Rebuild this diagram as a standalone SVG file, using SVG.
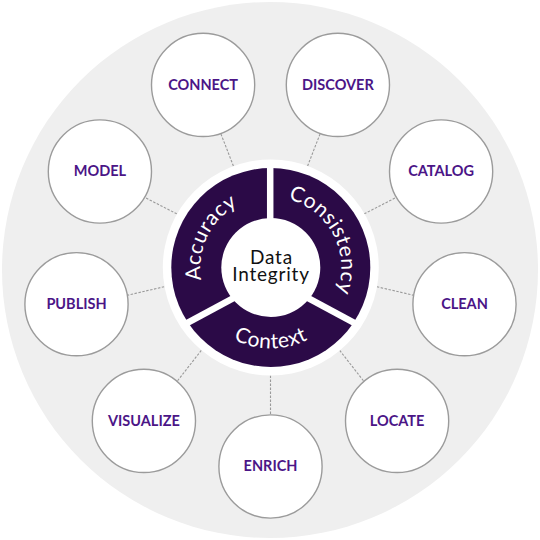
<svg xmlns="http://www.w3.org/2000/svg" width="540" height="540" viewBox="0 0 540 540">
  <defs>
    <style>
      .node circle { fill: #ffffff; stroke: #9b9b9b; stroke-width: 1.4; }
      .node text { font-family: Lato, "Liberation Sans", sans-serif; font-weight: 700; font-size: 14.5px; fill: #4b1587; text-anchor: middle; }
      .conn line { stroke: #9a9a9a; stroke-width: 1.1; stroke-dasharray: 2.5 1.5; }
      .seg { font-family: Lato, "Liberation Sans", sans-serif; font-size: 21px; letter-spacing: 0.6px; fill: #ffffff; }
      .core-t { font-family: Lato, "Liberation Sans", sans-serif; font-size: 19px; letter-spacing: 0.8px; fill: #111111; text-anchor: middle; }
      .gap { stroke: #ffffff; stroke-width: 6.5; }
    </style>
    <path id="pAcc" d="M 212.35 306.92 A 70.5 70.5 0 0 1 265.88 197.17" fill="none"/>
    <path id="pCon" d="M 273.87 197.07 A 70.5 70.5 0 0 1 330.26 305.38" fill="none"/>
    <path id="pCtx" d="M 200.65 308 A 81 81 0 0 0 340.95 308" fill="none"/>
  </defs>

  <rect width="540" height="540" fill="#ffffff"/>
  <circle cx="270" cy="270" r="268" fill="#efefef"/>

  <g id="connectors" class="conn">
    <line x1="236.3" y1="173.5" x2="220.9" y2="133.8"/>
    <line x1="304.7" y1="173.5" x2="320.1" y2="133.8"/>
    <line x1="357.1" y1="217.5" x2="396.1" y2="197.5"/>
    <line x1="369.0" y1="284.9" x2="413.3" y2="295.2"/>
    <line x1="334.8" y1="344.1" x2="363.7" y2="381.1"/>
    <line x1="270.5" y1="367.5" x2="270.5" y2="415"/>
    <line x1="206.2" y1="344.1" x2="177.3" y2="381.1"/>
    <line x1="172.0" y1="284.9" x2="127.7" y2="295.2"/>
    <line x1="183.9" y1="217.5" x2="144.9" y2="197.5"/>
  </g>

  <g id="core">
    <circle cx="270.8" cy="267.5" r="108" fill="#ffffff"/>
    <circle cx="270.8" cy="267.5" r="99.5" fill="#2b0a47"/>
    <line class="gap" x1="270.2" y1="160" x2="270.2" y2="230"/>
    <line class="gap" x1="239.9" y1="294.6" x2="183.2" y2="325.2"/>
    <line class="gap" x1="301.7" y1="294.6" x2="358.4" y2="325.2"/>
    <circle cx="270.8" cy="267.5" r="49.5" fill="#ffffff"/>
    <text class="seg"><textPath href="#pAcc" startOffset="50%" text-anchor="middle">Accuracy</textPath></text>
    <text class="seg"><textPath href="#pCon" startOffset="50%" text-anchor="middle">Consistency</textPath></text>
    <text class="seg"><textPath href="#pCtx" startOffset="50%" text-anchor="middle">Context</textPath></text>
    <text class="core-t" x="271.5" y="263.5">Data</text>
    <text class="core-t" x="271" y="281">Integrity</text>
  </g>

  <g id="node-connect" class="node"><circle cx="203.1" cy="84.9" r="51.6"/><text x="203.1" y="89.5">CONNECT</text></g>
  <g id="node-discover" class="node"><circle cx="337.9" cy="84.9" r="51.6"/><text x="337.9" y="89.5">DISCOVER</text></g>
  <g id="node-catalog" class="node"><circle cx="441.1" cy="171.5" r="51.6"/><text x="441.1" y="176.1">CATALOG</text></g>
  <g id="node-clean" class="node"><circle cx="464.5" cy="304.2" r="51.6"/><text x="464.5" y="308.8">CLEAN</text></g>
  <g id="node-locate" class="node"><circle cx="397.1" cy="420.9" r="51.6"/><text x="397.1" y="425.5">LOCATE</text></g>
  <g id="node-enrich" class="node"><circle cx="270.5" cy="466.5" r="51.6"/><text x="270.5" y="470.8">ENRICH</text></g>
  <g id="node-visualize" class="node"><circle cx="143.9" cy="420.9" r="51.6"/><text x="143.9" y="425.5">VISUALIZE</text></g>
  <g id="node-publish" class="node"><circle cx="76.5" cy="304.2" r="51.6"/><text x="76.5" y="308.8">PUBLISH</text></g>
  <g id="node-model" class="node"><circle cx="99.9" cy="171.5" r="51.6"/><text x="99.9" y="176.1">MODEL</text></g>
</svg>
